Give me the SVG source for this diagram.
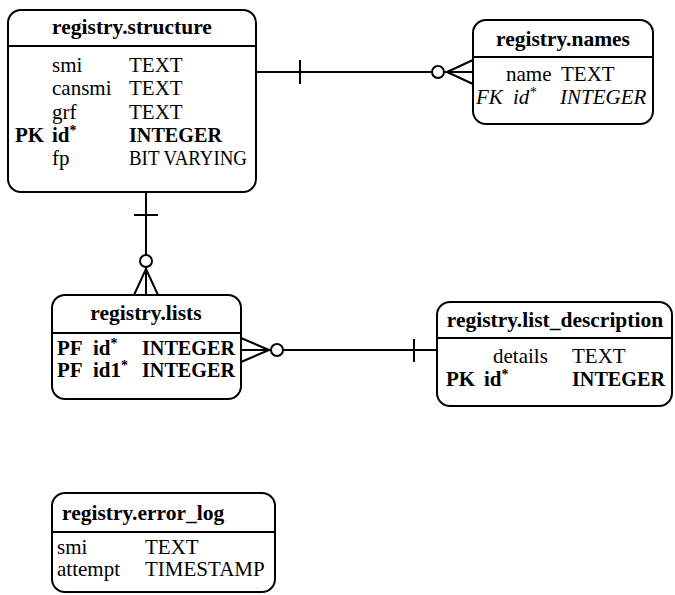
<svg xmlns="http://www.w3.org/2000/svg" width="675" height="595" viewBox="0 0 675 595">
<style>
.box{fill:#fff;stroke:#000;stroke-width:2}
.sep{stroke:#000;stroke-width:2}
.ln{stroke:#000;stroke-width:2;fill:none}
.circ{stroke:#000;stroke-width:2;fill:#fff}
text{font-family:"Liberation Serif","DejaVu Serif",serif;fill:#000;font-size:21px}
.title{font-weight:bold;font-size:21.5px;text-anchor:middle}
.b{font-weight:bold}
.i{font-style:italic}
.sup{font-size:14px}
</style>
<rect width="675" height="595" fill="#fff"/>
<g id="connectors">
  <!-- structure -> names -->
  <line class="ln" x1="256" y1="72" x2="473" y2="72"/>
  <line class="ln" x1="300" y1="60" x2="300" y2="84"/>
  <path class="ln" d="M447 72 L473 60 M447 72 L473 84"/>
  <circle class="circ" cx="438" cy="72" r="6"/>
  <!-- structure -> lists -->
  <line class="ln" x1="146" y1="192" x2="146" y2="295"/>
  <line class="ln" x1="134" y1="215" x2="158" y2="215"/>
  <path class="ln" d="M146 269 L134 295 M146 269 L158 295"/>
  <circle class="circ" cx="146" cy="261" r="6"/>
  <!-- lists -> list_description -->
  <line class="ln" x1="241" y1="350" x2="437" y2="350"/>
  <line class="ln" x1="414" y1="339" x2="414" y2="362"/>
  <path class="ln" d="M241 338 L269 350 M241 362 L269 350"/>
  <circle class="circ" cx="277" cy="350" r="6"/>
</g>
<g id="registry.structure">
  <rect class="box" x="8" y="10" width="248" height="182" rx="13"/>
  <line class="sep" x1="8" y1="46" x2="256" y2="46"/>
  <text class="title" x="132" y="34">registry.structure</text>
  <text x="52" y="72">smi</text><text x="129" y="72">TEXT</text>
  <text x="52" y="95">cansmi</text><text x="129" y="95">TEXT</text>
  <text x="52" y="118.5">grf</text><text x="129" y="118.5">TEXT</text>
  <text class="b" x="15" y="142">PK</text><text class="b" x="52" y="142">id<tspan class="sup" dy="-7">*</tspan></text><text class="b" x="129" y="142" textLength="93" lengthAdjust="spacingAndGlyphs">INTEGER</text>
  <text x="52" y="165">fp</text><text x="129" y="165" textLength="118" lengthAdjust="spacingAndGlyphs">BIT VARYING</text>
</g>
<g id="registry.names">
  <rect class="box" x="473" y="20" width="180" height="104" rx="13"/>
  <line class="sep" x1="473" y1="57" x2="653" y2="57"/>
  <text class="title" x="563" y="46">registry.names</text>
  <text x="506" y="81">name</text><text x="561" y="81">TEXT</text>
  <text class="i" x="476" y="104">FK</text><text class="i" x="513" y="104">id<tspan class="sup" dy="-7">*</tspan></text><text class="i" x="560" y="104">INTEGER</text>
</g>
<g id="registry.lists">
  <rect class="box" x="52" y="295" width="189" height="104" rx="13"/>
  <line class="sep" x1="52" y1="333" x2="241" y2="333"/>
  <text class="title" x="146" y="320">registry.lists</text>
  <text class="b" x="57" y="355">PF</text><text class="b" x="93" y="355">id<tspan class="sup" dy="-7">*</tspan></text><text class="b" x="142" y="355" textLength="93" lengthAdjust="spacingAndGlyphs">INTEGER</text>
  <text class="b" x="57" y="377">PF</text><text class="b" x="93" y="377">id1<tspan class="sup" dy="-7">*</tspan></text><text class="b" x="142" y="377" textLength="93" lengthAdjust="spacingAndGlyphs">INTEGER</text>
</g>
<g id="registry.list_description">
  <rect class="box" x="437" y="302" width="235" height="104" rx="13"/>
  <line class="sep" x1="437" y1="338" x2="672" y2="338"/>
  <text class="title" x="555" y="327">registry.list_description</text>
  <text x="493" y="363">details</text><text x="572" y="363">TEXT</text>
  <text class="b" x="446" y="386">PK</text><text class="b" x="484" y="386">id<tspan class="sup" dy="-7">*</tspan></text><text class="b" x="572" y="386" textLength="93" lengthAdjust="spacingAndGlyphs">INTEGER</text>
</g>
<g id="registry.error_log">
  <rect class="box" x="52" y="493" width="223" height="99" rx="13"/>
  <line class="sep" x1="52" y1="532" x2="275" y2="532"/>
  <text class="title" x="62" y="520" style="text-anchor:start">registry.error_log</text>
  <text x="57" y="554">smi</text><text x="145" y="554">TEXT</text>
  <text x="57" y="576">attempt</text><text x="145" y="576">TIMESTAMP</text>
</g>
</svg>
